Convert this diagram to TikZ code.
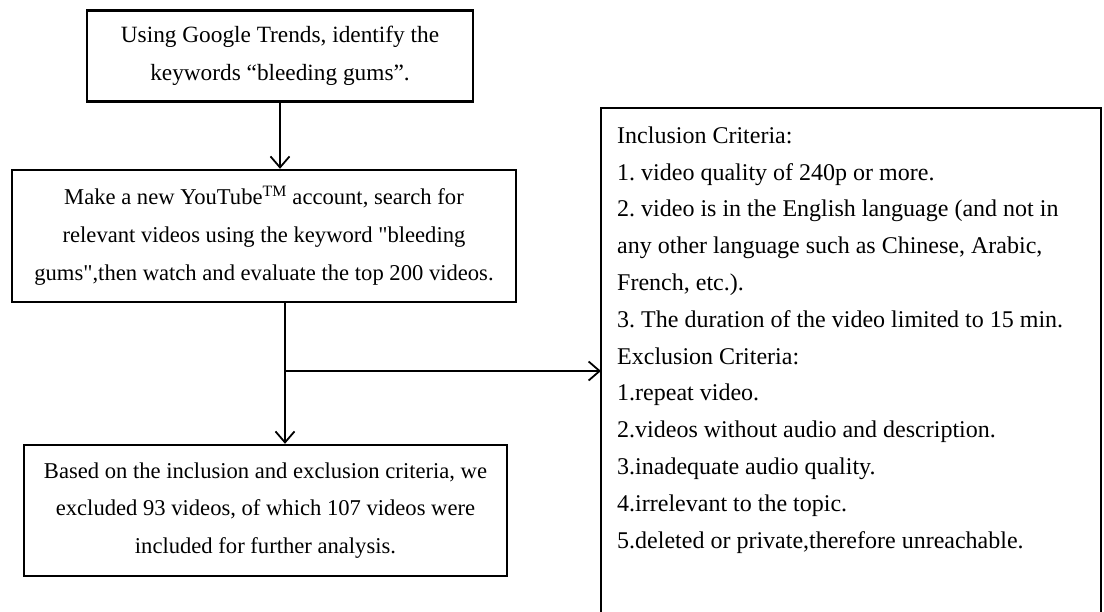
\documentclass[tikz,border=0pt]{standalone}
\usepackage{fontspec}
\setmainfont{Liberation Serif}
\usetikzlibrary{arrows.meta}
\tikzset{
  flowbox/.style={draw, line width=2.4pt, align=center, inner sep=0pt},
  flowarrow/.style={line width=1.8pt, -{Straight Barb[length=11pt,width=19pt,line width=1.8pt]}},
  flowline/.style={line width=1.8pt}
}
\begin{document}
\frenchspacing
\begin{tikzpicture}[x=1pt,y=-1pt]
\useasboundingbox (0,0) rectangle (1104,611);
\node[flowbox, minimum width=386pt, minimum height=91pt,
  font=\fontsize{23.3}{37.5}\selectfont] (trends) at (280,56)
  {Using Google Trends, identify the\\keywords “bleeding gums”.};
\node[flowbox, minimum width=504pt, minimum height=132pt,
  font=\fontsize{22.6}{38}\selectfont] (youtube) at (264,236)
  {Make a new YouTube\textsuperscript{TM} account, search for\\relevant videos using the keyword \textquotedbl bleeding\\gums\textquotedbl,then watch and evaluate the top 200 videos.};
\node[flowbox, minimum width=483pt, minimum height=131pt,
  font=\fontsize{22.6}{37.5}\selectfont] (result) at (265.5,510.5)
  {Based on the inclusion and exclusion criteria, we\\excluded 93 videos, of which 107 videos were\\included for further analysis.};
\begin{scope}
\clip (0,0) rectangle (1104,611);
\draw[line width=2.4pt] (601,640) -- (601,108) -- (1101,108) -- (1101,640);
\end{scope}
\node[anchor=north west, align=left, inner sep=0pt,
  font=\fontsize{24}{36.8}\selectfont] (criteria) at (617,126.5)
  {Inclusion Criteria:\\
   1. video quality of 240p or more.\\
   2. video is in the English language (and not in\\
   any other language such as Chinese, Arabic,\\
   French, etc.).\\
   3. The duration of the video limited to 15 min.\\
   Exclusion Criteria:\\
   1.repeat video.\\
   2.videos without audio and description.\\
   3.inadequate audio quality.\\
   4.irrelevant to the topic.\\
   5.deleted or private,therefore unreachable.};
\coordinate (critin) at (601,371);
\coordinate (split) at (285,371);
\draw[flowarrow] (trends.south -| 280,0) -- (youtube.north -| 280,0);
\draw[flowarrow] (youtube.south -| split) -- (result.north -| split);
\draw[flowarrow] (split) -- (critin);
\end{tikzpicture}
\end{document}
